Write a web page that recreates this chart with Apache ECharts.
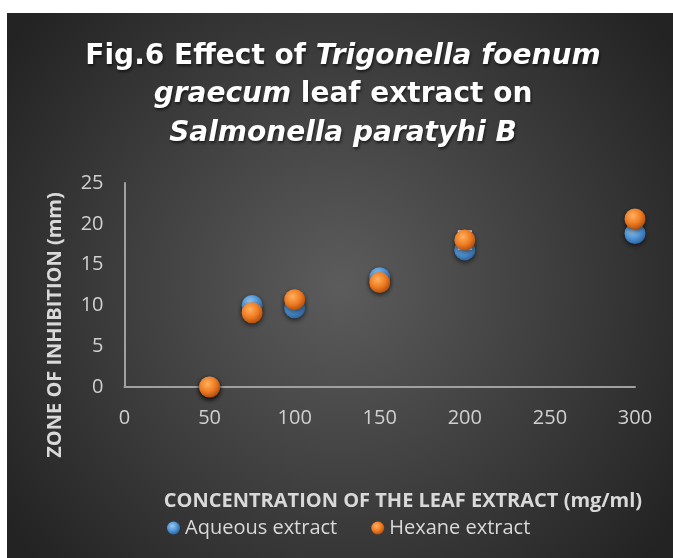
<!DOCTYPE html>
<html><head><meta charset="utf-8">
<script src="https://cdn.jsdelivr.net/npm/echarts@6/dist/echarts.min.js"></script>
<style>html,body{margin:0;padding:0;background:#fff}#c{width:673px;height:558px}</style>
</head><body><div id="c"></div>
<script>
const concentrations = [50, 75, 100, 150, 200, 300];
const aqueous = [0, 10.0, 9.7, 13.4, 16.8, 18.8];
const hexane = [0, 9.1, 10.7, 12.8, 18.0, 20.6];
const hexaneErr = [0, 0, 0, 0, 1.1, 0];
const xTicks = [0, 50, 100, 150, 200, 250, 300];
const yTicks = [0, 5, 10, 15, 20, 25];
const seriesNames = ['Aqueous extract', 'Hexane extract'];
const titleText = '{b|Fig.6 Effect of }{i|Trigonella foenum}\n{i|graecum}{b| leaf extract on}\n{i|Salmonella paratyhi B}';

function sphere(c1, c2, c3) {
  return {type: 'radial', x: 0.4, y: 0.35, r: 0.7,
    colorStops: [{offset: 0, color: c1}, {offset: 0.55, color: c2}, {offset: 1, color: c3}]};
}
const blueFill = sphere('#9cc8f0', '#4e93d6', '#2a5f99');
const orangeFill = sphere('#ffb15f', '#ee7b22', '#a9480c');

const chart = echarts.init(document.getElementById('c'));
const font = 'Open Sans';
const tfont = 'DejaVu Sans';
const shadow = {textShadowColor: 'rgba(0,0,0,0.6)', textShadowBlur: 3, textShadowOffsetX: 1, textShadowOffsetY: 2};
chart.setOption({
  backgroundColor: '#ffffff',
  animation: false,
  graphic: [
    {type: 'rect', z: -10, shape: {x: 7, y: 13, width: 666, height: 545},
     style: {fill: {type: 'radial', x: 0.5, y: 0.5, r: 0.75,
       colorStops: [{offset: 0, color: '#5c5c5c'}, {offset: 1, color: '#232323'}]}}},
    {type: 'text', x: 343, y: 37, z: 10,
     style: Object.assign({text: titleText, align: 'center', verticalAlign: 'top', fill: '#fff',
       font: 'bold 28px "DejaVu Sans"', lineHeight: 38.5,
       rich: {
         b: Object.assign({fill: '#fff', fontFamily: tfont, fontWeight: 'bold', fontSize: 28, lineHeight: 38.5}, shadow),
         i: Object.assign({fill: '#fff', fontFamily: tfont, fontWeight: 'bold', fontSize: 28, fontStyle: 'italic', lineHeight: 38.5}, shadow)
       }}, shadow)},
    {type: 'text', x: 55, y: 325, rotation: Math.PI / 2, z: 10,
     style: {text: 'ZONE OF INHIBITION (mm)', fill: '#d9d9d9', font: 'bold 20px "Open Sans"',
       align: 'center', verticalAlign: 'middle'}},
    {type: 'text', x: 403, y: 501, z: 10,
     style: {text: 'CONCENTRATION OF THE LEAF EXTRACT (mg/ml)', fill: '#d9d9d9', font: 'bold 20px "Open Sans"',
       align: 'center', verticalAlign: 'middle'}}
  ],
  legend: {
    data: seriesNames.map((n, i) => ({name: n, icon: 'circle',
      itemStyle: {color: i === 0 ? blueFill : orangeFill}})),
    left: 162, top: 513, itemWidth: 13, itemHeight: 13, itemGap: 34, itemTextGap: 2,
    textStyle: {color: '#d9d9d9', fontFamily: font, fontSize: 20}
  },
  grid: {left: 124.5, right: 38, top: 183, bottom: 171, containLabel: false},
  xAxis: {
    type: 'value', min: xTicks[0], max: xTicks[xTicks.length - 1], interval: xTicks[1] - xTicks[0],
    axisLine: {lineStyle: {color: '#a0a0a0', width: 2}},
    axisTick: {show: false}, splitLine: {show: false},
    axisLabel: {color: '#d0d0d0', fontFamily: font, fontSize: 20, margin: 21}
  },
  yAxis: {
    type: 'value', min: yTicks[0], max: yTicks[yTicks.length - 1], interval: yTicks[1] - yTicks[0],
    axisLine: {show: true, lineStyle: {color: '#a0a0a0', width: 2}},
    axisTick: {show: false}, splitLine: {show: false},
    axisLabel: {color: '#d0d0d0', fontFamily: font, fontSize: 20, margin: 21}
  },
  series: [
    {name: seriesNames[0], type: 'scatter', z: 3, symbolSize: 21,
     data: concentrations.map((x, i) => [x, aqueous[i]]),
     itemStyle: {color: blueFill, opacity: 1, shadowBlur: 5, shadowColor: 'rgba(0,0,0,0.6)', shadowOffsetY: 2}},
    {name: 'hexErr', type: 'custom', z: 4,
     data: concentrations.map((x, i) => [x, hexane[i], hexaneErr[i]]),
     renderItem: function (params, api) {
       const e = api.value(2);
       if (!e) return null;
       const top = api.coord([api.value(0), api.value(1) + e]);
       const bot = api.coord([api.value(0), api.value(1) - e]);
       const w = 7;
       return {type: 'group', children: [
         {type: 'line', shape: {x1: top[0], y1: top[1], x2: bot[0], y2: bot[1]}, style: {stroke: '#fff', lineWidth: 1}},
         {type: 'line', shape: {x1: top[0] - w, y1: top[1], x2: top[0] + w, y2: top[1]}, style: {stroke: '#fff', lineWidth: 1.5}},
         {type: 'line', shape: {x1: bot[0] - w, y1: bot[1], x2: bot[0] + w, y2: bot[1]}, style: {stroke: '#fff', lineWidth: 1.5}}
       ]};
     }},
    {name: seriesNames[1], type: 'scatter', z: 5, symbolSize: 21,
     data: concentrations.map((x, i) => [x, hexane[i]]),
     itemStyle: {color: orangeFill, opacity: 1, shadowBlur: 5, shadowColor: 'rgba(0,0,0,0.6)', shadowOffsetY: 2}}
  ]
});
</script></body></html>
